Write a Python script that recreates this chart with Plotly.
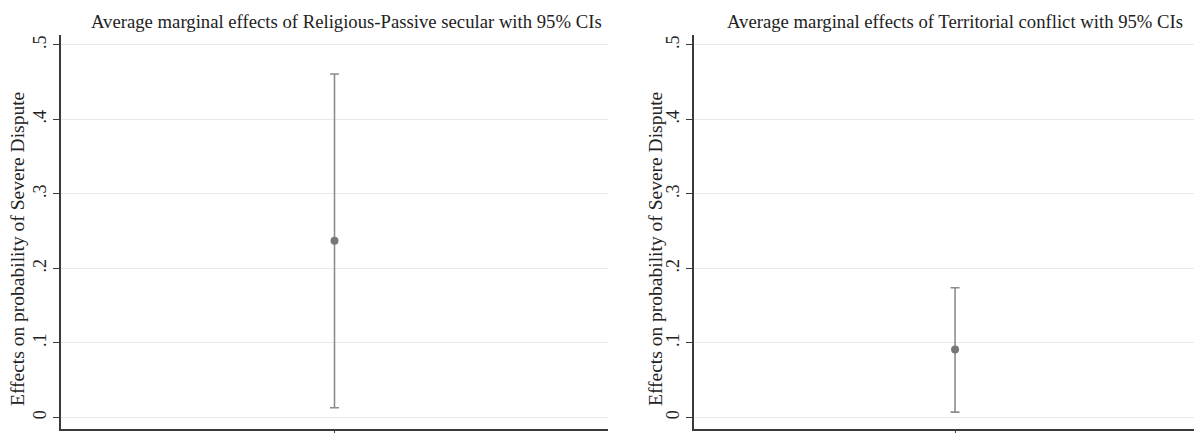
import plotly.graph_objects as go

# Data
panel_titles = [
    "Average marginal effects of Religious-Passive secular with 95% CIs",
    "Average marginal effects of Territorial conflict with 95% CIs",
]
y_title = "Effects on probability of Severe Dispute"
estimates = [0.237, 0.091]
ci_lower = [0.013, 0.007]
ci_upper = [0.461, 0.174]
y_tickvals = [0, 0.1, 0.2, 0.3, 0.4, 0.5]
y_ticktext = ["0", ".1", ".2", ".3", ".4", ".5"]

# page is rendered with an 8px body margin; work in page pixels and shift
OFF = 8
W, H = 1202 - OFF, 433 - OFF
FONT = "Liberation Serif"
ERR_COL = "#8c8c8c"
MARK_COL = "#777777"
AXIS_COL = "#3a3a3a"
GRID_COL = "#e9e9e9"


def px_x(p):
    return (p - OFF) / W


def px_y(p):
    return 1 - (p - OFF) / H


fig = go.Figure()
for i in range(2):
    sfx = "" if i == 0 else str(i + 1)
    fig.add_trace(go.Scatter(
        x=[0], y=[estimates[i]],
        mode="markers",
        marker=dict(color=MARK_COL, size=8),
        error_y=dict(type="data", symmetric=False,
                     array=[ci_upper[i] - estimates[i]],
                     arrayminus=[estimates[i] - ci_lower[i]],
                     color=ERR_COL, thickness=1.6, width=4.5),
        xaxis="x" + sfx, yaxis="y" + sfx,
        showlegend=False, hoverinfo="skip",
    ))

ydom = [px_y(428.7), px_y(35)]
yrange = [-0.0152, 0.5134]
common_y = dict(
    range=yrange, domain=ydom, tickvals=y_tickvals, ticktext=y_ticktext,
    tickangle=-90, ticks="outside", ticklen=6, tickwidth=1.2, tickcolor=AXIS_COL,
    showgrid=True, gridcolor=GRID_COL, gridwidth=1, zeroline=False,
    showline=True, linecolor=AXIS_COL, linewidth=1.5,
    tickfont=dict(family=FONT, size=18, color="#222"), fixedrange=True,
)
common_x = dict(
    tickvals=[0], ticktext=[""], ticks="outside", ticklen=5, tickwidth=1.2,
    tickcolor=AXIS_COL, showgrid=False, zeroline=False, showline=True,
    linecolor=AXIS_COL, linewidth=1.5, fixedrange=True,
)

fig.update_layout(
    width=W, height=H,
    margin=dict(l=0, r=0, t=0, b=0),
    paper_bgcolor="white", plot_bgcolor="white",
    xaxis=dict(common_x, domain=[px_x(61), px_x(608)], range=[-1, 1], anchor="y"),
    yaxis=dict(common_y, anchor="x"),
    xaxis2=dict(common_x, domain=[px_x(694), 1.0], range=[-1, 0.946], anchor="y2"),
    yaxis2=dict(common_y, anchor="x2"),
)

title_x = [346.7, 955.3]
ytitle_x = [18, 656]
for i in range(2):
    fig.add_annotation(text=panel_titles[i], x=px_x(title_x[i]), y=px_y(21),
                       xref="paper", yref="paper", showarrow=False,
                       xanchor="center", yanchor="middle",
                       font=dict(family=FONT, size=18.7, color="#222"))
    fig.add_annotation(text=y_title, x=px_x(ytitle_x[i]), y=px_y(249),
                       xref="paper", yref="paper", showarrow=False, textangle=-90,
                       xanchor="center", yanchor="middle",
                       font=dict(family=FONT, size=19.5, color="#222"))

fig.write_html("out.html")
